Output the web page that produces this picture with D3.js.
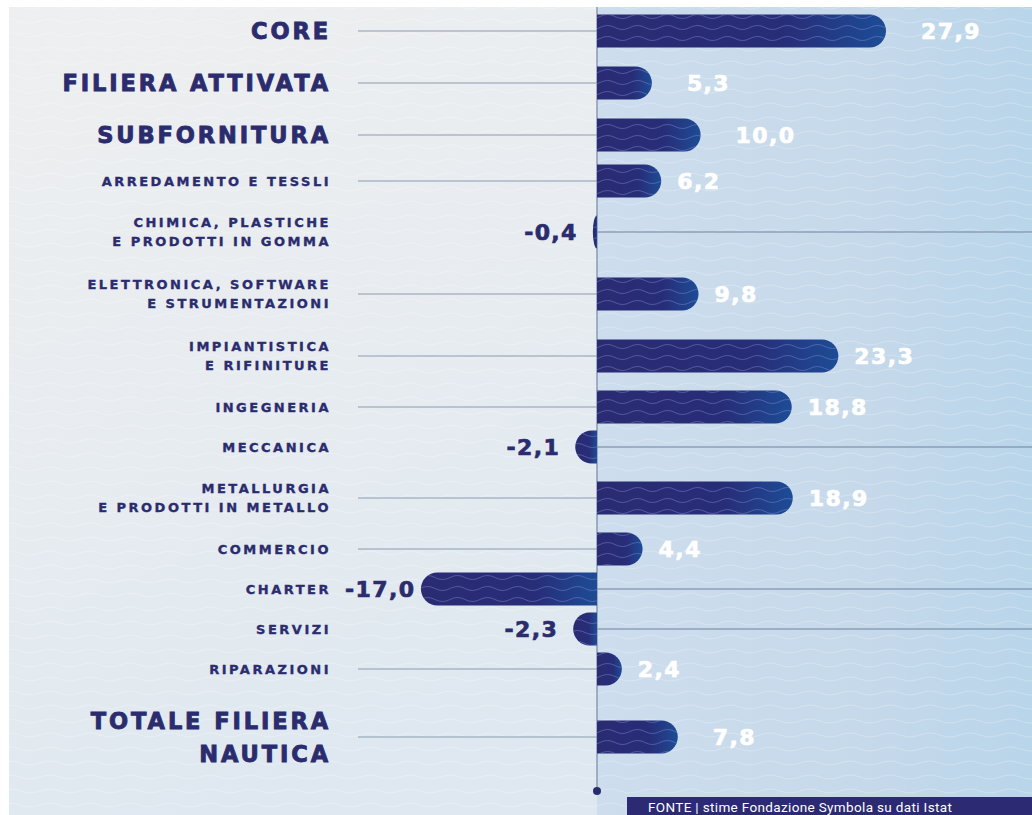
<!DOCTYPE html>
<html>
<head>
<meta charset="utf-8">
<script src="https://cdn.jsdelivr.net/npm/d3@7"></script>
<style>
  body { margin: 0; background: #fff; }
  svg { display: block; }
</style>
</head>
<body>
<div id="chart"></div>
<script>
// categories top to bottom, "\n" marks a line break in the label
var categories = [
  "CORE",
  "FILIERA ATTIVATA",
  "SUBFORNITURA",
  "ARREDAMENTO E TESSLI",
  "CHIMICA, PLASTICHE\nE PRODOTTI IN GOMMA",
  "ELETTRONICA, SOFTWARE\nE STRUMENTAZIONI",
  "IMPIANTISTICA\nE RIFINITURE",
  "INGEGNERIA",
  "MECCANICA",
  "METALLURGIA\nE PRODOTTI IN METALLO",
  "COMMERCIO",
  "CHARTER",
  "SERVIZI",
  "RIPARAZIONI",
  "TOTALE FILIERA\nNAUTICA"
];
var values = [27.9, 5.3, 10.0, 6.2, -0.4, 9.8, 23.3, 18.8, -2.1, 18.9, 4.4, -17.0, -2.3, 2.4, 7.8];
// headline rows get the big label
var headlines = ["CORE", "FILIERA ATTIVATA", "SUBFORNITURA", "TOTALE FILIERA\nNAUTICA"];
var source = "FONTE | stime Fondazione Symbola su dati Istat";

var W = 1032, H = 815;
var zeroX = 597;
var labelRight = 331;
var navy = "#2b2c6e";
var labelFont = "'DejaVu Sans', Verdana, sans-serif";

var it = d3.formatLocale({decimal: ",", thousands: ".", grouping: [3], currency: ["€", ""], minus: "-"});
var fmt = it.format(".1f");

var rows = categories.map(function (c, i) {
  var lines = c.split("\n");
  var big = headlines.indexOf(c) >= 0;
  var h = big ? (lines.length > 1 ? 96 : 52) : (lines.length > 1 ? 62 : 40);
  return {cat: c, lines: lines, big: big, value: values[i], h: h};
});

// stack the rows to get each row's centre
var acc = 5;
rows.forEach(function (r) { r.cy = acc + r.h / 2; acc += r.h; });

var y = d3.scaleOrdinal()
  .domain(categories)
  .range(rows.map(function (r) { return r.cy; }));

var x = d3.scaleLinear()
  .domain([0, 27.9])
  .range([zeroX, 886]);

var svg = d3.select("#chart").append("svg")
  .attr("width", W).attr("height", H);

var defs = svg.append("defs");

var gLeft = defs.append("linearGradient").attr("id", "bgLeft")
  .attr("x1", 0).attr("y1", 0).attr("x2", 0.3).attr("y2", 1);
gLeft.append("stop").attr("offset", 0).attr("stop-color", "#eeeff0");
gLeft.append("stop").attr("offset", 0.55).attr("stop-color", "#e7ecf0");
gLeft.append("stop").attr("offset", 1).attr("stop-color", "#dfe8f0");

var gRight = defs.append("linearGradient").attr("id", "bgRight")
  .attr("x1", 0).attr("y1", 0).attr("x2", 1).attr("y2", 0);
gRight.append("stop").attr("offset", 0).attr("stop-color", "#cddded");
gRight.append("stop").attr("offset", 0.6).attr("stop-color", "#c6d9ea");
gRight.append("stop").attr("offset", 1).attr("stop-color", "#b9d5ea");

var gBar = defs.append("linearGradient").attr("id", "barFill")
  .attr("x1", 0).attr("y1", 0).attr("x2", 1).attr("y2", 0);
gBar.append("stop").attr("offset", 0).attr("stop-color", "#2a2b72");
gBar.append("stop").attr("offset", 0.65).attr("stop-color", "#282d78");
gBar.append("stop").attr("offset", 1).attr("stop-color", "#1d4c96");

// wavy lines inside the bars
var wave = defs.append("pattern").attr("id", "wave")
  .attr("patternUnits", "userSpaceOnUse")
  .attr("width", 30).attr("height", 11);
wave.append("path")
  .attr("d", "M0,5.5 Q7.5,1.5 15,5.5 T30,5.5")
  .attr("fill", "none")
  .attr("stroke", "#7f8cd0")
  .attr("stroke-opacity", 0.5)
  .attr("stroke-width", 0.9);

// faint waves on the background
var bgWave = defs.append("pattern").attr("id", "bgWave")
  .attr("patternUnits", "userSpaceOnUse")
  .attr("width", 40).attr("height", 14);
bgWave.append("path")
  .attr("d", "M0,7 Q10,3 20,7 T40,7")
  .attr("fill", "none")
  .attr("stroke", "#ffffff")
  .attr("stroke-opacity", 0.3)
  .attr("stroke-width", 0.8);

// background panels
svg.append("rect").attr("x", 9).attr("y", 7).attr("width", zeroX - 9).attr("height", H - 7)
  .attr("fill", "url(#bgLeft)");
svg.append("rect").attr("x", zeroX).attr("y", 7).attr("width", W - zeroX).attr("height", H - 7)
  .attr("fill", "url(#bgRight)");
svg.append("rect").attr("x", 9).attr("y", 7).attr("width", W - 9).attr("height", H - 7)
  .attr("fill", "url(#bgWave)");

// guide lines: positives run from label to axis, negatives from axis to edge
svg.append("g").selectAll("line")
  .data(rows).enter()
  .append("line")
    .attr("x1", function (d) { return d.value < 0 ? zeroX : 358; })
    .attr("x2", function (d) { return d.value < 0 ? W : zeroX; })
    .attr("y1", function (d) { return y(d.cat); })
    .attr("y2", function (d) { return y(d.cat); })
    .attr("stroke", function (d) { return d.value < 0 ? "#6f82a0" : "#8c9bb0"; })
    .attr("stroke-width", 1.2);

// zero axis
svg.append("line")
  .attr("x1", zeroX).attr("x2", zeroX).attr("y1", 7).attr("y2", 791)
  .attr("stroke", "#7f8fa8").attr("stroke-width", 1.3);
svg.append("circle").attr("cx", zeroX).attr("cy", 791).attr("r", 4).attr("fill", navy);

var barH = 33, r = barH / 2;

function barPath(d) {
  var x0 = x(0), x1 = x(d.value), top = y(d.cat) - r, w = Math.abs(x1 - x0);
  var rx = Math.min(w, r);
  if (d.value >= 0) {
    return "M" + x0 + "," + top +
      "H" + (x1 - rx) +
      "A" + rx + "," + r + " 0 0 1 " + (x1 - rx) + "," + (top + barH) +
      "H" + x0 + "Z";
  }
  return "M" + x0 + "," + top +
    "H" + (x1 + rx) +
    "A" + rx + "," + r + " 0 0 0 " + (x1 + rx) + "," + (top + barH) +
    "H" + x0 + "Z";
}

var bars = svg.append("g");
bars.selectAll("path.bar")
  .data(rows).enter()
  .append("path")
    .attr("class", "bar")
    .attr("d", barPath)
    .attr("fill", "url(#barFill)");
bars.selectAll("path.wave")
  .data(rows).enter()
  .append("path")
    .attr("class", "wave")
    .attr("d", barPath)
    .attr("fill", "url(#wave)");

// category labels (thin stroke to get a heavier weight)
var labels = svg.append("g")
  .attr("font-family", labelFont)
  .attr("font-weight", "bold")
  .attr("fill", navy)
  .attr("stroke", navy)
  .attr("text-anchor", "end");

labels.selectAll("text")
  .data(rows).enter()
  .append("text")
    .attr("font-size", function (d) { return d.big ? 22.5 : 13; })
    .attr("letter-spacing", function (d) { return d.big ? 2.9 : 2.5; })
    .attr("stroke-width", function (d) { return d.big ? 0.9 : 0.35; })
    .each(function (d) {
      var lh = d.big ? 33 : 18.5;
      var fs = d.big ? 22.5 : 13;
      var first = y(d.cat) - (d.lines.length - 1) * lh / 2 + fs * 0.36;
      d3.select(this).selectAll("tspan")
        .data(d.lines).enter()
        .append("tspan")
          .attr("x", labelRight)
          .attr("y", function (t, i) { return first + i * lh; })
          .text(function (t) { return t; });
    });

// value labels
var valueLabels = svg.append("g")
  .attr("font-family", labelFont)
  .attr("font-weight", "bold")
  .attr("font-size", 22)
  .attr("letter-spacing", 1.4)
  .attr("stroke-width", 0.7)
  .selectAll("text")
  .data(rows).enter()
  .append("text")
    .attr("x", function (d) {
      if (d.value < 0) return x(d.value) - 15;
      return x(d.value) + (d.big ? 35 : 16);
    })
    .attr("y", function (d) { return y(d.cat) + 8; })
    .attr("text-anchor", function (d) { return d.value < 0 ? "end" : "start"; })
    .attr("fill", function (d) { return d.value < 0 ? navy : "#ffffff"; })
    .attr("stroke", function (d) { return d.value < 0 ? navy : "#ffffff"; })
    .text(function (d) { return fmt(d.value); });

// negative labels must not run into the category label
valueLabels.filter(function (d) { return d.value < 0; })
  .each(function () {
    var b = this.getBBox();
    if (b.x < labelRight + 14) {
      d3.select(this).attr("x", +d3.select(this).attr("x") + (labelRight + 14 - b.x));
    }
  });

// source box
svg.append("rect")
  .attr("x", 627).attr("y", 797).attr("width", W - 627).attr("height", H - 797)
  .attr("fill", "#2b2a72");
svg.append("text")
  .attr("x", 648).attr("y", 812)
  .attr("font-family", "Roboto, 'Liberation Sans', sans-serif")
  .attr("font-size", 13.5)
  .attr("letter-spacing", 0.35)
  .attr("fill", "#ffffff")
  .text(source);
</script>
</body>
</html>
